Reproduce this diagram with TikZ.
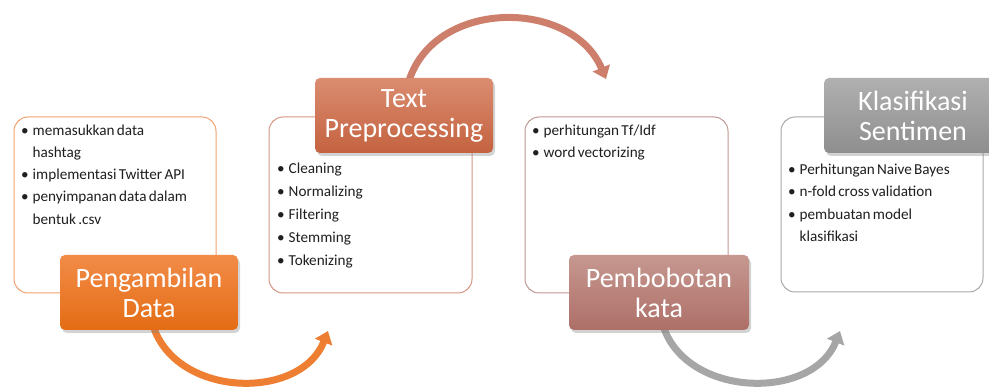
\documentclass[tikz,border=0pt]{standalone}
\usepackage{fontspec}
\setmainfont{Carlito}
\usetikzlibrary{shadows,arrows.meta}
\definecolor{orA}{HTML}{F28C48}\definecolor{orB}{HTML}{E46C14}\definecolor{orL}{HTML}{F2A26E}
\definecolor{ruA}{HTML}{DA8C70}\definecolor{ruB}{HTML}{C4623F}\definecolor{ruL}{HTML}{D69684}
\definecolor{roA}{HTML}{C69890}\definecolor{roB}{HTML}{AD6F68}\definecolor{roL}{HTML}{BE9894}
\definecolor{grA}{HTML}{B0B0B0}\definecolor{grB}{HTML}{8E8E8E}\definecolor{grL}{HTML}{A8A8A8}
\definecolor{arO}{HTML}{EE7E32}\definecolor{arR}{HTML}{CD7F6C}\definecolor{arG}{HTML}{A6A6A6}
\newcommand{\tsp}{\spaceskip=0.15em plus 0.05em\relax}
\tikzset{
  panel/.style={draw=#1, line width=1pt, fill=white, rounded corners=14pt},
  header/.style 2 args={rounded corners=5pt, top color=#1, bottom color=#2, draw=none,
     drop shadow={shadow xshift=2pt, shadow yshift=-3pt, opacity=0.35}},
  htext/.style={text=white, align=center, font=\fontsize{28}{30}\selectfont, inner sep=0pt},
  blist/.style={anchor=north west, align=left, inner sep=0pt, text=black!88,
     font=\fontsize{15.2}{22.2}\selectfont\tsp},
  flow/.style={draw=#1, line width=7pt, -{Triangle[width=18pt,length=12pt]}},
}
\newcommand{\bi}{\makebox[11.5pt][l]{•}}
\newcommand{\bc}{\hspace*{11.5pt}}
\begin{document}
\begin{tikzpicture}[x=1pt,y=-1pt]
\useasboundingbox (0,0) rectangle (989,387);
\clip (0,0) rectangle (989,387);
% panels
\draw[panel=orL] (14,117) rectangle (216,293);
\draw[panel=ruL] (269,117) rectangle (472,293);
\draw[panel=roL] (525,117) rectangle (728,293);
\draw[panel=grL] (781,117) rectangle (983,292);
% coordinates for arrows
\coordinate (a1s) at (152,322);
\coordinate (a1e) at (328,331);
\coordinate (a2s) at (408,84);
\coordinate (a2e) at (606,79);
\coordinate (a3s) at (662,322);
\coordinate (a3e) at (840,331);
\draw[flow=arO] (a1s) .. controls (172,398) and (300,402) .. (a1e);
\draw[flow=arR] (a2s) .. controls (432,-2) and (572,-2) .. (a2e);
\draw[flow=arG] (a3s) .. controls (682,398) and (812,402) .. (a3e);
% headers
\path[header={orA}{orB}] (60,255) rectangle (238,330);
\path[header={ruA}{ruB}] (315,78) rectangle (493,153);
\path[header={roA}{roB}] (569,255) rectangle (749,330);
\path[header={grA}{grB}] (824,78) rectangle (1002,153);
\node[htext] (h1) at (149,292.5) {Pengambilan\\Data};
\node[htext] (h2) at (404,115.5) {Text\\Preprocessing};
\node[htext] (h3) at (659,292.5) {Pembobotan\\kata};
\node[htext] (h4) at (913,115.5) {Klasifikasi\\Sentimen};
% lists
\node[blist] (l1) at (21,124.5) {\bi memasukkan data\\\bc hashtag\\\bi implementasi Twitter API\\\bi penyimpanan data dalam\\\bc bentuk .csv};
\node[blist, font=\fontsize{15.2}{23}\selectfont\tsp] (l2) at (277,162.5) {\bi Cleaning\\\bi Normalizing\\\bi Filtering\\\bi Stemming\\\bi Tokenizing};
\node[blist] (l3) at (532,124.5) {\bi perhitungan Tf/Idf\\\bi word vectorizing};
\node[blist] (l4) at (788,164) {\bi Perhitungan Naive Bayes\\\bi n-fold cross validation\\\bi pembuatan model\\\bc klasifikasi};
\end{tikzpicture}
\end{document}
